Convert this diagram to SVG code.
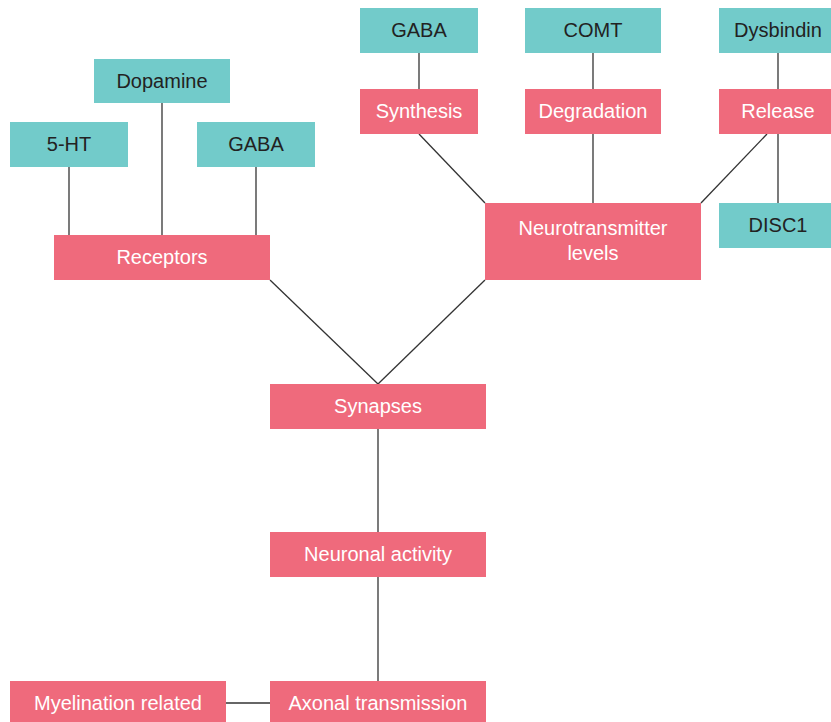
<svg xmlns="http://www.w3.org/2000/svg" width="831" height="722" viewBox="0 0 831 722">
<style>
.t{fill:#72CBCA}
.p{fill:#EF6A7C}
text{font-family:"Liberation Sans",Arial,sans-serif;font-size:20px;text-anchor:middle}
.tt{fill:#222}
.pt{fill:#fff}
#connectors line{stroke:#333;stroke-width:1.3}
</style>
<rect width="831" height="722" fill="#fff"/>
<g id="connectors">
<line x1="69" y1="167" x2="69" y2="235"/>
<line x1="162" y1="103" x2="162" y2="235"/>
<line x1="256" y1="167" x2="256" y2="235"/>
<line x1="419" y1="53" x2="419" y2="89"/>
<line x1="593" y1="53" x2="593" y2="89"/>
<line x1="778" y1="53" x2="778" y2="89"/>
<line x1="778" y1="134" x2="778" y2="203"/>
<line x1="419" y1="134" x2="485" y2="203"/>
<line x1="593" y1="134" x2="593" y2="203"/>
<line x1="767" y1="134" x2="701" y2="203"/>
<line x1="270" y1="280" x2="378" y2="384"/>
<line x1="485" y1="280" x2="378" y2="384"/>
<line x1="378" y1="429" x2="378" y2="532"/>
<line x1="378" y1="577" x2="378" y2="681"/>
<line x1="226" y1="703" x2="270" y2="703"/>
</g>
<g id="dopamine"><rect class="t" x="94" y="59" width="136" height="44"/><text class="tt" x="162" y="88">Dopamine</text></g>
<g id="ht5"><rect class="t" x="10" y="122" width="118" height="45"/><text class="tt" x="69" y="151">5-HT</text></g>
<g id="gaba1"><rect class="t" x="197" y="122" width="118" height="45"/><text class="tt" x="256" y="151">GABA</text></g>
<g id="receptors"><rect class="p" x="54" y="235" width="216" height="45"/><text class="pt" x="162" y="264">Receptors</text></g>
<g id="gaba2"><rect class="t" x="360" y="8" width="118" height="45"/><text class="tt" x="419" y="37">GABA</text></g>
<g id="comt"><rect class="t" x="525" y="8" width="136" height="45"/><text class="tt" x="593" y="37">COMT</text></g>
<g id="dysbindin"><rect class="t" x="719" y="8" width="112" height="45"/><text class="tt" x="778" y="37">Dysbindin</text></g>
<g id="synthesis"><rect class="p" x="360" y="89" width="118" height="45"/><text class="pt" x="419" y="118">Synthesis</text></g>
<g id="degradation"><rect class="p" x="525" y="89" width="136" height="45"/><text class="pt" x="593" y="118">Degradation</text></g>
<g id="release"><rect class="p" x="719" y="89" width="112" height="45"/><text class="pt" x="778" y="118">Release</text></g>
<g id="neurotransmitter"><rect class="p" x="485" y="203" width="216" height="77"/><text class="pt" x="593" y="235">Neurotransmitter</text><text class="pt" x="593" y="260">levels</text></g>
<g id="disc1"><rect class="t" x="719" y="203" width="112" height="45"/><text class="tt" x="778" y="232">DISC1</text></g>
<g id="synapses"><rect class="p" x="270" y="384" width="216" height="45"/><text class="pt" x="378" y="413">Synapses</text></g>
<g id="neuronal"><rect class="p" x="270" y="532" width="216" height="45"/><text class="pt" x="378" y="561">Neuronal activity</text></g>
<g id="axonal"><rect class="p" x="270" y="681" width="216" height="45"/><text class="pt" x="378" y="710">Axonal transmission</text></g>
<g id="myelination"><rect class="p" x="10" y="681" width="216" height="45"/><text class="pt" x="118" y="710">Myelination related</text></g>
</svg>
